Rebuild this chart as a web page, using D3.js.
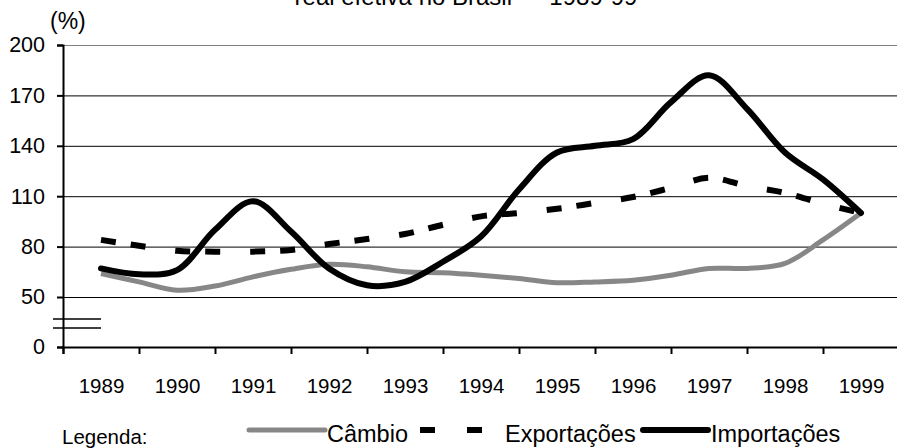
<!DOCTYPE html>
<html>
<head>
<meta charset="utf-8">
<script src="https://cdn.jsdelivr.net/npm/d3@7"></script>
<style>
  body { margin: 0; background: #fff; }
  text { font-family: "Liberation Sans", Arial, sans-serif; }
</style>
</head>
<body>
<div id="chart"></div>
<script>
var anos = ['1989','1990','1991','1992','1993','1994','1995','1996','1997','1998','1999'];
// semestral points (year, half year)
var periodos = [1989,1989.5,1990,1990.5,1991,1991.5,1992,1992.5,1993,1993.5,1994,1994.5,1995,1995.5,1996,1996.5,1997,1997.5,1998,1998.5,1999];
var cambio =       [64,59,54,56.5,62,66.5,69.5,68,65,64.5,63,61,58.5,59,60,63,67,67,70,84,100];
var exportacoes =  [84,80.5,77.5,77,77,78,81.5,84.5,87.5,93,98,100,102.5,106,109.5,115,121,116,112,105.5,100];
var importacoes =  [67,63.5,66,90,107,89,67,57,59,71,86,114,136,140,144,166,182,162,136,120,100];
var yTicks = [0,50,80,110,140,170,200];

const width = 897;
const height = 448;

const svg = d3.select('#chart')
    .append('svg')
    .attr('width', width)
    .attr('height', height);

var x = d3.scaleLinear()
    .domain([1988.5, 1999.5])
    .range([63, 899]);

// axis has a break between 0 and 50
var y = d3.scaleLinear()
    .domain([0, 50, 200])
    .range([347, 297, 45]);

// title (top part cut off)
svg.append('text')
    .attr('x', 466).attr('y', 5)
    .attr('text-anchor', 'middle')
    .attr('font-size', 24)
    .text('real efetiva no Brasil \u2014 1989-99');

svg.append('text')
    .attr('x', 50).attr('y', 29)
    .attr('font-size', 23)
    .text('(%)');

// gridlines
svg.selectAll('.grid')
    .data(yTicks.filter(function(d) { return d >= 50; }))
    .enter()
    .append('line')
    .attr('x1', 63).attr('x2', 899)
    .attr('y1', function(d) { return y(d) + 0.5; })
    .attr('y2', function(d) { return y(d) + 0.5; })
    .attr('stroke', function(d) { return d == 200 ? '#808080' : '#000'; })
    .attr('stroke-width', 1);

// y axis
svg.append('g')
    .attr('transform', 'translate(63,0)')
    .call(d3.axisLeft(y).tickValues(yTicks).tickSize(6).tickPadding(12))
    .call(function(g) {
        g.select('.domain').attr('stroke-width', 2);
        g.selectAll('.tick line').attr('stroke-width', 2);
        g.selectAll('text').attr('font-size', 21.5).attr('font-family', '"Liberation Sans", Arial, sans-serif');
    });

// break marks
svg.selectAll('.brk')
    .data([319, 328])
    .enter()
    .append('line')
    .attr('x1', 53).attr('x2', 101)
    .attr('y1', function(d) { return d; })
    .attr('y2', function(d) { return d; })
    .attr('stroke', '#000')
    .attr('stroke-width', 1.5);

// x axis: ticks between years, labels at year centers
var bordas = d3.range(1988.5, 1999.6, 1);
svg.append('g')
    .attr('transform', 'translate(0,347)')
    .call(d3.axisBottom(x).tickValues(bordas).tickSize(7).tickFormat(''))
    .call(function(g) {
        g.select('.domain').attr('stroke-width', 2);
        g.selectAll('.tick line').attr('stroke-width', 2);
    });

svg.append('g')
    .attr('transform', 'translate(0,347)')
    .call(d3.axisBottom(x).tickValues(anos.map(Number)).tickSize(0).tickPadding(31).tickFormat(d3.format('d')))
    .call(function(g) {
        g.select('.domain').remove();
        g.selectAll('text').attr('font-size', 20.5).attr('font-family', '"Liberation Sans", Arial, sans-serif');
    });

var linha = function(vals) {
    return d3.line()
        .x(function(d, i) { return x(periodos[i]); })
        .y(function(d) { return y(d); })
        .curve(d3.curveCatmullRom.alpha(0.5))(vals);
};

svg.append('path')
    .attr('d', linha(cambio))
    .attr('fill', 'none')
    .attr('stroke', '#878787')
    .attr('stroke-width', 5);

svg.append('path')
    .attr('d', linha(exportacoes))
    .attr('fill', 'none')
    .attr('stroke', '#000')
    .attr('stroke-width', 6)
    .attr('stroke-dasharray', '15,15,15,30');

svg.append('path')
    .attr('d', linha(importacoes))
    .attr('fill', 'none')
    .attr('stroke', '#000')
    .attr('stroke-width', 6)
    .attr('stroke-linecap', 'round')
    .attr('stroke-linejoin', 'round');

// legend
var ly = 430;
svg.append('text')
    .attr('x', 62).attr('y', 444)
    .attr('font-size', 20.5)
    .text('Legenda:');

svg.append('line')
    .attr('x1', 249).attr('x2', 325).attr('y1', ly).attr('y2', ly)
    .attr('stroke', '#878787').attr('stroke-width', 5)
    .attr('stroke-linecap', 'round');
svg.append('text')
    .attr('x', 327).attr('y', 442)
    .attr('font-size', 23.5)
    .text('C\u00e2mbio');

svg.append('line')
    .attr('x1', 420).attr('x2', 490).attr('y1', ly).attr('y2', ly)
    .attr('stroke', '#000').attr('stroke-width', 6)
    .attr('stroke-dasharray', '15,32');
svg.append('text')
    .attr('x', 505).attr('y', 442)
    .attr('font-size', 23.5)
    .text('Exporta\u00e7\u00f5es');

svg.append('line')
    .attr('x1', 643).attr('x2', 708).attr('y1', ly).attr('y2', ly)
    .attr('stroke', '#000').attr('stroke-width', 6)
    .attr('stroke-linecap', 'round');
svg.append('text')
    .attr('x', 711).attr('y', 442)
    .attr('font-size', 23.5)
    .text('Importa\u00e7\u00f5es');
</script>
</body>
</html>
